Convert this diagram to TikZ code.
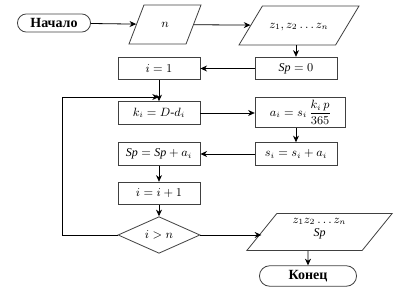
\documentclass[tikz,border=0pt]{standalone}
\usepackage{amsmath}
\usepackage{fontspec}
\setmainfont{Liberation Serif}
\usetikzlibrary{shapes,arrows.meta,positioning,calc}

\begin{document}
\begin{tikzpicture}[x=0.75pt, y=-0.75pt,
    every node/.style={font=\fontsize{9}{11}\selectfont},
    block/.style={draw=black!75, line width=0.6pt, rectangle, minimum width=61.5pt, minimum height=17pt, inner sep=1pt},
    terminal/.style={draw=black!75, line width=0.6pt, rounded rectangle, minimum height=13.5pt, font=\fontsize{10.5}{12}\selectfont\bfseries},
    io/.style={draw=black!75, line width=0.6pt, trapezium, trapezium stretches body, text height=6pt, text depth=2pt, inner xsep=1pt, inner ysep=10.6pt},
    decision/.style={draw=black!75, line width=0.6pt, diamond, minimum width=61.5pt, minimum height=27pt, inner sep=0pt},
    arrow/.style={-{Stealth[length=5pt,width=4.5pt]}, line width=0.6pt}
]
\useasboundingbox (0,0) rectangle (401,288);

% Input and output
\node[terminal, minimum width=61.5pt] (start) at (54,23) {Начало};
\node[io, trapezium left angle=69, trapezium right angle=111, minimum width=54pt] (n) at (165,24.5) {$n$};
\node[io, trapezium left angle=59, trapezium right angle=121, minimum width=90pt] (z) at (299,25.5) {$z_1, z_2 \ldots z_n$};

% Main steps
\node[block] (sp0) at (296,68.5) {$\mathit{Sp}=0$};
\node[block] (i1) at (159,68.5) {$i=1$};
\node[block] (k) at (159,113) {$k_i = D\text{-}d_i$};
\node[block, minimum width=68pt, minimum height=23pt] (a) at (300.5,112.5) {$a_i = s_i\,\dfrac{k_i\,p}{365}$};
\node[block] (s) at (296,154) {$s_i = s_i + a_i$};
\node[block] (sp) at (159,154) {$\mathit{Sp} = \mathit{Sp} + a_i$};
\node[block] (inc) at (159,193.5) {$i=i+1$};
\node[decision] (cond) at (159,235) {$i>n$};

% Result
\node[io, trapezium left angle=51, trapezium right angle=129, minimum width=109pt, text height=12pt, text depth=5pt, inner ysep=5.4pt, align=center] (out) at (319.5,232) {$z_1 z_2 \ldots z_n$\\[-1pt] $\mathit{Sp}$};
\node[terminal, minimum width=79.5pt] (end) at (308,276) {Конец};

% Arrows
\draw[arrow] (start) -- (n);
\draw[arrow] (n) -- (z);
\draw[arrow] (z.south -| sp0) -- (sp0);
\draw[arrow] (sp0) -- (i1);
\draw[arrow] (i1) -- (k);
\draw[arrow] (k) -- (k -| a.west);
\draw[arrow] (a.south -| s) -- (s);
\draw[arrow] (s) -- (sp);
\draw[arrow] (sp) -- (inc);
\draw[arrow] (inc) -- (cond);
\draw[arrow] (cond.east) -- (cond.east -| out.west);
\draw[arrow] (out.south -| end) -- (end);

% Loop back
\coordinate (join) at (159,97);
\draw[arrow] (cond.west) -- ++(-55,0) |- (join);

\end{tikzpicture}
\end{document}
